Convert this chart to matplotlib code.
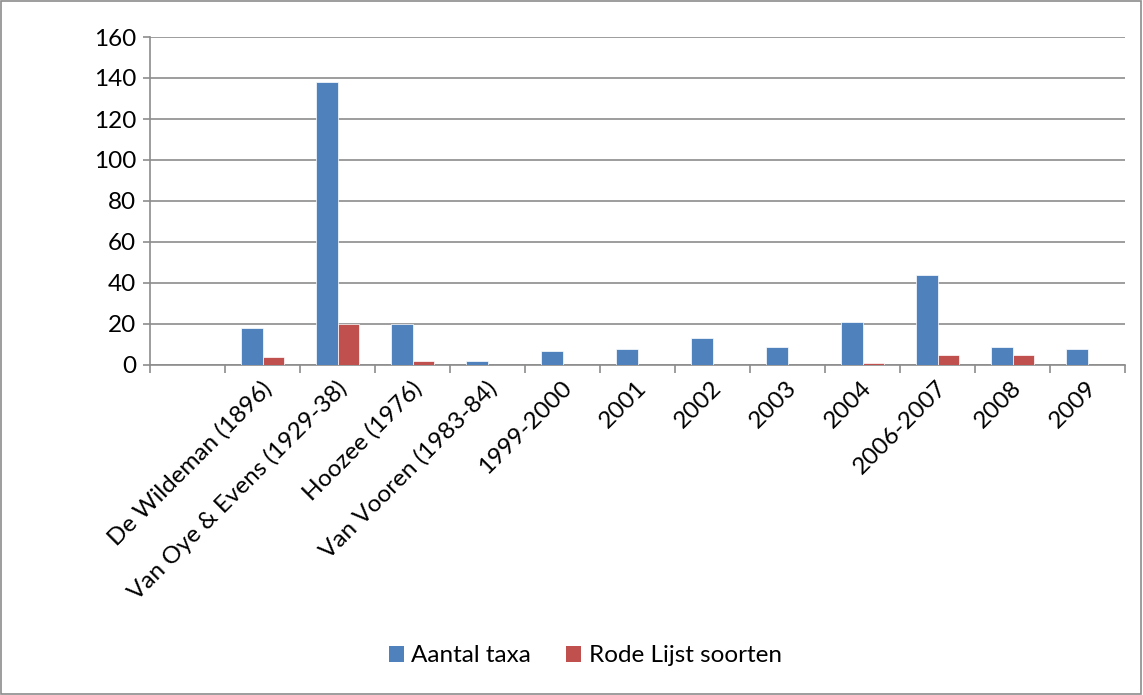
import matplotlib
matplotlib.use("Agg")
import matplotlib.pyplot as plt
from matplotlib.patches import Rectangle, Patch
import numpy as np

categories = ["", "De Wildeman (1896)", "Van Oye & Evens (1929-38)", "Hoozee (1976)",
              "Van Vooren (1983-84)", "1999-2000", "2001", "2002", "2003", "2004",
              "2006-2007", "2008", "2009"]
aantal_taxa = [0, 18, 138, 20, 2, 7, 8, 13, 9, 21, 44, 9, 8]
rode_lijst = [0, 4, 20, 2, 0, 0, 0, 0, 0, 1, 5, 5, 0]
y_ticks = [0, 20, 40, 60, 80, 100, 120, 140, 160]

blue = "#4F81BD"
red = "#C0504D"
grid_col = "#8C8C8C"

plt.rcParams["font.family"] = ["Lato", "DejaVu Sans"]
FS = 17.5

fig = plt.figure(figsize=(11.43, 6.95), dpi=100)
W, H = 1143, 695
ax = fig.add_axes([150 / W, 1 - 365 / H, 975 / W, (365 - 37) / H])

x = np.arange(len(categories))
bw = 0.293
ax.bar(x - bw / 2, aantal_taxa, width=bw, color=blue, edgecolor="white", linewidth=0.5, zorder=3)
ax.bar(x + bw / 2, rode_lijst, width=bw, color=red, edgecolor="white", linewidth=0.5, zorder=3)

ax.set_xlim(-0.5, len(categories) - 0.5)
ax.set_ylim(0, 160)
ax.set_yticks(y_ticks)
ax.set_yticklabels([str(v) for v in y_ticks], fontsize=FS)
ax.yaxis.grid(True, color=grid_col, linewidth=1.2, zorder=0)
ax.set_axisbelow(True)

for s in ["top", "right"]:
    ax.spines[s].set_visible(False)
for s in ["left", "bottom"]:
    ax.spines[s].set_color(grid_col)
    ax.spines[s].set_linewidth(1.2)

ax.tick_params(axis="y", length=5, width=1.2, color=grid_col, pad=5)
ax.set_xticks(np.arange(len(categories) + 1) - 0.5)
ax.set_xticklabels([])
ax.tick_params(axis="x", length=6, width=1.2, color=grid_col)

for xi, lab in zip(x, categories):
    if lab:
        ax.text(xi - 0.02, -6, lab, rotation=45, ha="right", va="top",
                rotation_mode="anchor", fontsize=FS, transform=ax.transData)

handles = [Patch(facecolor=blue, label="Aantal taxa"),
           Patch(facecolor=red, label="Rode Lijst soorten")]
fig.legend(handles=handles, loc="center", bbox_to_anchor=(0.512, 1 - 656 / H), ncol=2,
           frameon=False, fontsize=FS, handlelength=0.62, handleheight=0.62,
           handletextpad=0.3, columnspacing=1.45)

fig.patches.append(Rectangle((0.001, 0.002), 0.997, 0.996, transform=fig.transFigure,
                             fill=False, edgecolor="#8C8C8C", linewidth=1.2))

fig.savefig("out.png", dpi=100)
